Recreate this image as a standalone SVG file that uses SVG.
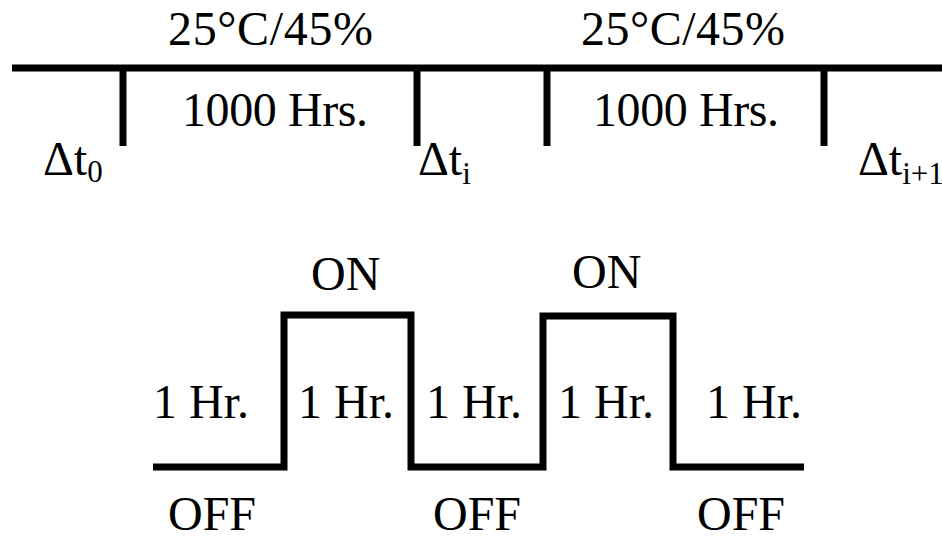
<svg xmlns="http://www.w3.org/2000/svg" width="942" height="541" viewBox="0 0 942 541">
<style>
text{font-family:"Liberation Serif","Times New Roman",serif;font-size:48px;fill:#000}
.sub{font-size:31px}
.ln{stroke:#000;stroke-width:7;fill:none;stroke-linejoin:miter}
</style>
<rect width="942" height="541" fill="#fff"/>
<g id="connectors">
<line class="ln" x1="12" y1="68" x2="942" y2="68"/>
<line class="ln" x1="123" y1="68" x2="123" y2="146"/>
<line class="ln" x1="417" y1="68" x2="417" y2="146"/>
<line class="ln" x1="547" y1="68" x2="547" y2="146"/>
<line class="ln" x1="824" y1="68" x2="824" y2="146"/>
<polyline class="ln" points="153,467 284,467 284,315 411,315 411,467 543,467 543,316 673,316 673,467 804,467"/>
</g>
<g id="top-labels">
<text x="168" y="45" textLength="205">25°C/45%</text>
<text x="581" y="45" textLength="204">25°C/45%</text>
<text x="182" y="126" textLength="186">1000 Hrs.</text>
<text x="593" y="126" textLength="186">1000 Hrs.</text>
</g>
<g id="delta-labels">
<text x="43" y="175">Δt<tspan class="sub" dy="7">0</tspan></text>
<text x="418" y="175">Δt<tspan class="sub" dy="9">i</tspan></text>
<text x="858" y="175">Δt<tspan class="sub" dy="9" font-size="28">i+1</tspan></text>
</g>
<g id="state-labels">
<text x="311" y="290">ON</text>
<text x="572" y="288">ON</text>
<text x="168" y="530">OFF</text>
<text x="433" y="530">OFF</text>
<text x="697" y="530">OFF</text>
</g>
<g id="hour-labels">
<text x="153" y="418">1 Hr.</text>
<text x="298" y="418">1 Hr.</text>
<text x="426" y="418">1 Hr.</text>
<text x="558" y="418">1 Hr.</text>
<text x="706" y="418">1 Hr.</text>
</g>
</svg>
